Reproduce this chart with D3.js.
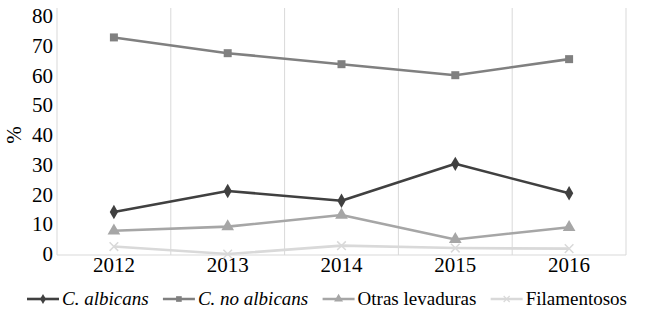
<!DOCTYPE html>
<html>
<head>
<meta charset="utf-8">
<script src="https://cdn.jsdelivr.net/npm/d3@7"></script>
<style>
  html, body { margin: 0; padding: 0; background: #fff; }
</style>
</head>
<body>
<svg id="chart" width="653" height="312"></svg>
<script>
const years = ["2012", "2013", "2014", "2015", "2016"];
const yTicks = [0, 10, 20, 30, 40, 50, 60, 70, 80];
const seriesNames = ["C. albicans", "C. no albicans", "Otras levaduras", "Filamentosos"];
const albicans = [14.1, 21.2, 17.9, 30.3, 20.4];
const noAlbicans = [72.8, 67.5, 63.8, 60.1, 65.5];
const otrasLevaduras = [7.8, 9.2, 13.1, 4.9, 9.0];
const filamentosos = [2.5, 0, 2.8, 2.0, 1.8];

(function () {
const FONT = "Liberation Serif";
const seriesData = [albicans, noAlbicans, otrasLevaduras, filamentosos];
const colors = ["#404040", "#808080", "#a6a6a6", "#d9d9d9"];
const symbols = [d3.symbolDiamond, d3.symbolSquare, d3.symbolTriangle, d3.symbolX];
const italic = [true, true, false, false];

const svg = d3.select("#chart");
const pLeft = 57, pRight = 626, pTop = 8, pBottom = 255;

const x = d3.scaleBand().domain(years).range([pLeft, pRight]).padding(0);
const y = d3.scaleLinear().domain([0, 80]).range([254, 16]);

const bounds = years.map(d => x(d)).concat([pRight]);
svg.append("g").selectAll("line").data(bounds).join("line")
  .attr("x1", d => d).attr("x2", d => d)
  .attr("y1", pTop).attr("y2", pBottom)
  .attr("stroke", "#d9d9d9").attr("stroke-width", 1);

svg.append("line").attr("x1", pLeft).attr("x2", pRight)
  .attr("y1", pBottom).attr("y2", pBottom)
  .attr("stroke", "#d9d9d9").attr("stroke-width", 1);

const yAxis = d3.axisLeft(y).tickValues(yTicks).tickSize(0).tickPadding(0);
const gy = svg.append("g").attr("transform", `translate(${pLeft - 4},0)`).call(yAxis)
  .attr("font-family", FONT).attr("font-size", 21);
gy.select(".domain").remove();
gy.selectAll("text").attr("fill", "#000");

const xAxis = d3.axisBottom(x).tickSize(0).tickPadding(0);
const gx = svg.append("g").attr("transform", `translate(0,${pBottom + 2})`).call(xAxis)
  .attr("font-family", FONT).attr("font-size", 21);
gx.select(".domain").remove();
gx.selectAll("text").attr("fill", "#000");

svg.append("text").attr("transform", "translate(21,135) rotate(-90)")
  .attr("font-family", FONT)
  .attr("text-anchor", "middle").attr("font-size", 21).attr("fill", "#000").text("%");

const cx = d => x(d) + x.bandwidth() / 2;
const line = d3.line().x((d, i) => cx(years[i])).y(d => y(d));
const symSizes = [60, 64, 70, 50];

seriesData.forEach((vals, si) => {
  svg.append("path").datum(vals).attr("d", line)
    .attr("fill", "none").attr("stroke", colors[si]).attr("stroke-width", 2.6)
    .attr("stroke-linejoin", "round");
  svg.append("g").selectAll("path").data(vals).join("path")
    .attr("transform", (d, i) => `translate(${cx(years[i])},${y(d)})`)
    .attr("d", d3.symbol().type(symbols[si]).size(symSizes[si]))
    .attr("fill", si === 3 ? "none" : colors[si])
    .attr("stroke", colors[si]).attr("stroke-width", si === 3 ? 1.5 : 0);
});

// legend: measure entries, then spread evenly between x=27 and x=627
const legY = 299, symW = 32, txtGap = 3, legStart = 27, legEnd = 627;
const groups = seriesNames.map((name, si) => {
  const g = svg.append("g");
  g.append("line").attr("x1", 0).attr("x2", symW).attr("y1", 0).attr("y2", 0)
    .attr("stroke", colors[si]).attr("stroke-width", 2.6);
  g.append("path").attr("transform", `translate(${symW / 2},0)`)
    .attr("d", d3.symbol().type(symbols[si]).size(symSizes[si] * 0.5))
    .attr("fill", si === 3 ? "none" : colors[si])
    .attr("stroke", colors[si]).attr("stroke-width", si === 3 ? 1.2 : 0);
  const t = g.append("text").attr("x", symW + txtGap).attr("y", 6).attr("font-size", 19)
    .attr("font-family", FONT)
    .attr("font-style", italic[si] ? "italic" : "normal")
    .attr("fill", "#000").text(name);
  return { g, w: symW + txtGap + t.node().getComputedTextLength() };
});
const total = d3.sum(groups, d => d.w);
const gap = Math.max(4, (legEnd - legStart - total) / (groups.length - 1));
let pos = legStart;
groups.forEach(d => {
  d.g.attr("transform", `translate(${pos},${legY})`);
  pos += d.w + gap;
});
})();
</script>
</body>
</html>
